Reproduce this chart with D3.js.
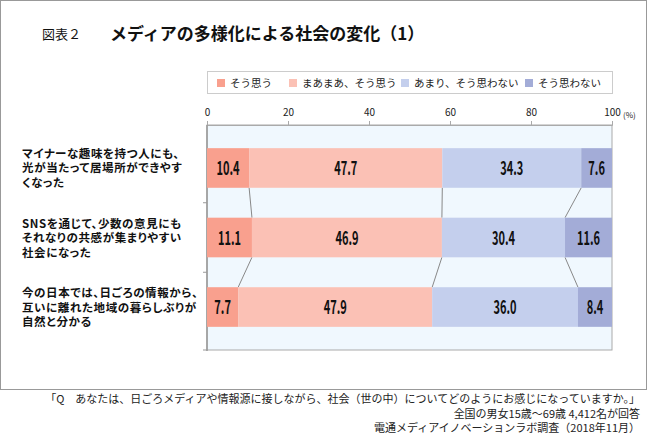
<!DOCTYPE html>
<html>
<head>
<meta charset="utf-8">
<script src="https://cdn.jsdelivr.net/npm/d3@7"></script>
<style>
  body { margin: 0; background: #fff; }
  svg { display: block; }
  text { font-family: "Noto Sans CJK JP", "Noto Sans", sans-serif; }
</style>
</head>
<body>
<svg id="chart" width="650" height="435"></svg>
<script>
// data
var categories = [
  ["マイナーな趣味を持つ人にも、", "光が当たって居場所ができやす", "くなった"],
  ["SNSを通じて、少数の意見にも", "それなりの共感が集まりやすい", "社会になった"],
  ["今の日本では、日ごろの情報から、", "互いに離れた地域の暮らしぶりが", "自然と分かる"]
];
var seriesNames = ["そう思う", "まあまあ、そう思う", "あまり、そう思わない", "そう思わない"];
var soOmou = [10.4, 11.1, 7.7];
var maamaa = [47.7, 46.9, 47.9];
var amari = [34.3, 30.4, 36.0];
var omowanai = [7.6, 11.6, 8.4];
var xTicks = [0, 20, 40, 60, 80, 100];
var footnotes = [
  "「Q　あなたは、日ごろメディアや情報源に接しながら、社会（世の中）についてどのようにお感じになっていますか。」",
  "全国の男女15歳～69歳 4,412名が回答",
  "電通メディアイノベーションラボ調査（2018年11月）"
];

var colors = ["#f9a08e", "#fbc1b5", "#c4cfed", "#a3acd7"];
var series = [soOmou, maamaa, amari, omowanai];

var svg = d3.select("#chart");

// outer frame
svg.append("rect")
  .attr("x", 0.5).attr("y", 0.5)
  .attr("width", 646).attr("height", 389)
  .attr("fill", "#fff").attr("stroke", "#999");

// title
svg.append("text").attr("x", 42).attr("y", 39)
  .attr("font-size", 13).attr("fill", "#111")
  .text("図表２");
svg.append("text").attr("x", 110).attr("y", 40)
  .attr("font-size", 17).attr("font-weight", "bold").attr("fill", "#111")
  .text("メディアの多様化による社会の変化（1）");

// scales
var plotTop = 125, plotBottom = 350;
var x = d3.scaleLinear().domain([0, 100]).range([207, 612]);
var y = d3.scaleBand().domain(d3.range(categories.length)).range([128, 347]).paddingInner(0.43).paddingOuter(0.29);

// plot background
svg.append("rect")
  .attr("x", x(0)).attr("y", plotTop)
  .attr("width", x(100) - x(0)).attr("height", plotBottom - plotTop)
  .attr("fill", "#f0f8fe").attr("stroke", "#aaa");

// top axis
var xAxis = d3.axisTop(x).tickValues(xTicks).tickSize(4).tickFormat(d3.format("d"));
var gx = svg.append("g").attr("transform", "translate(0," + plotTop + ")").call(xAxis);
gx.select(".domain").attr("stroke", "#aaa");
gx.selectAll(".tick line").attr("stroke", "#aaa");
gx.selectAll(".tick text")
  .attr("font-family", "Liberation Sans, Arial, sans-serif")
  .attr("font-size", 10).attr("fill", "#222").attr("dy", "-0.2em");
svg.append("text").attr("x", x(100) + 11).attr("y", 118)
  .attr("font-family", "Liberation Sans, Arial, sans-serif")
  .attr("font-size", 8).attr("fill", "#222").text("(%)");

// left axis line + ticks at band boundaries
svg.append("line")
  .attr("x1", x(0)).attr("x2", x(0))
  .attr("y1", plotTop).attr("y2", plotBottom + 1)
  .attr("stroke", "#999").attr("stroke-width", 1.5);
var step = y.step();
var bounds = d3.range(1, categories.length).map(function (i) { return y(i) - (step - y.bandwidth()) / 2; });
bounds.push(plotBottom);
svg.append("g").selectAll("line").data(bounds).enter().append("line")
  .attr("x1", x(0) - 4).attr("x2", x(0))
  .attr("y1", function (d) { return d; }).attr("y2", function (d) { return d; })
  .attr("stroke", "#999");

// stacked data
var stacked = categories.map(function (c, i) {
  var acc = 0;
  return series.map(function (s, k) {
    var seg = { row: i, k: k, x0: acc, x1: acc + s[i], v: s[i] };
    acc += s[i];
    return seg;
  });
});

// connector lines between bars
var links = [];
for (var i = 0; i < categories.length - 1; i++) {
  for (var k = 0; k < series.length - 1; k++) {
    links.push({ a: i, va: stacked[i][k].x1, vb: stacked[i + 1][k].x1 });
  }
}
svg.append("g").selectAll("line").data(links).enter().append("line")
  .attr("x1", function (d) { return x(d.va); })
  .attr("y1", function (d) { return y(d.a) + y.bandwidth(); })
  .attr("x2", function (d) { return x(d.vb); })
  .attr("y2", function (d) { return y(d.a + 1); })
  .attr("stroke", "#888").attr("stroke-width", 1);

// bars
var rows = svg.append("g").selectAll("g").data(stacked).enter().append("g");
rows.selectAll("rect").data(function (d) { return d; }).enter().append("rect")
  .attr("x", function (d) { return x(d.x0); })
  .attr("y", function (d) { return y(d.row); })
  .attr("width", function (d) { return x(d.x1) - x(d.x0); })
  .attr("height", y.bandwidth())
  .attr("fill", function (d) { return colors[d.k]; });

rows.selectAll("text").data(function (d) { return d; }).enter().append("text")
  .attr("transform", function (d) {
    return "translate(" + x((d.x0 + d.x1) / 2) + "," + (y(d.row) + y.bandwidth() / 2 + 7) + ") scale(0.58,1)";
  })
  .attr("text-anchor", "middle")
  .attr("font-family", "Liberation Sans, Arial, sans-serif")
  .attr("font-weight", "bold")
  .attr("font-size", 19)
  .attr("fill", "#111")
  .text(function (d) { return d.v.toFixed(1); });

// category labels
var labels = svg.append("g").selectAll("text").data(categories).enter().append("text")
  .attr("font-size", 11.5).attr("font-weight", "bold").attr("fill", "#111")
  .attr("letter-spacing", 0.6)
  .style("font-feature-settings", "'palt'");
labels.selectAll("tspan").data(function (d, i) { return d.map(function (t, j) { return { t: t, j: j, i: i }; }); })
  .enter().append("tspan")
  .attr("x", 22)
  .attr("y", function (d) { return y(d.i) + y.bandwidth() / 2 + (d.j - 1) * 14.5 + 4.5; })
  .text(function (d) { return d.t; });

// legend
var legend = svg.append("g");
legend.append("rect").attr("x", 207.5).attr("y", 71.5).attr("width", 405).attr("height", 22)
  .attr("fill", "#fff").attr("stroke", "#ccc");
var legendX = [217, 289, 401, 525];
var li = legend.selectAll("g.item").data(seriesNames).enter().append("g")
  .attr("transform", function (d, i) { return "translate(" + legendX[i] + ",83)"; });
li.append("rect").attr("x", 0).attr("y", -4).attr("width", 8).attr("height", 8)
  .attr("fill", function (d, i) { return colors[i]; });
li.append("text").attr("x", 13).attr("y", 4)
  .attr("font-size", 10.5).attr("fill", "#222")
  .text(function (d) { return d; });

// footnotes
svg.append("g").selectAll("text").data(footnotes).enter().append("text")
  .attr("x", 640).attr("y", function (d, i) { return 403 + i * 14.5; })
  .attr("text-anchor", "end")
  .attr("font-size", 11).attr("fill", "#222")
  .text(function (d) { return d; });
</script>
</body>
</html>
